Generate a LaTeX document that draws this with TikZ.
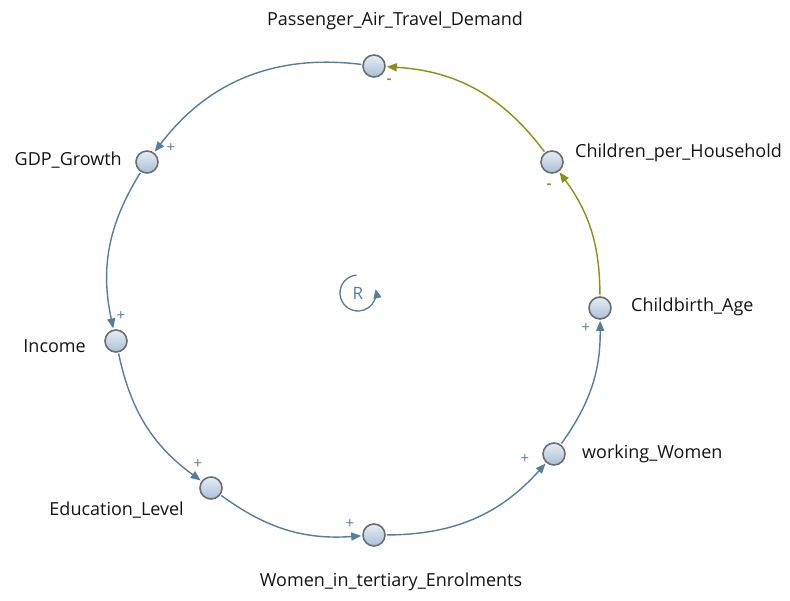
\documentclass[tikz,border=0pt]{standalone}
\usepackage{fontspec}
\setmainfont{Open Sans}
\usetikzlibrary{arrows.meta,calc}
\definecolor{linkblue}{RGB}{86,124,158}
\definecolor{linkolive}{RGB}{142,142,20}
\definecolor{nodeborder}{RGB}{105,110,116}
\definecolor{nodetop}{RGB}{230,237,244}
\definecolor{nodebot}{RGB}{170,192,214}
\definecolor{txt}{RGB}{20,20,20}
\tikzset{
  var/.style={circle, minimum size=22pt, inner sep=0pt, draw=nodeborder, line width=1.6pt, top color=nodetop, bottom color=nodebot},
  lbl/.style={font=\fontsize{18}{21}\selectfont, text=txt, inner sep=0pt},
  link/.style={line width=1.4pt, -{Triangle[length=10pt,width=8pt]}, shorten >=1pt, shorten <=1pt},
  plussign/.style={font=\fontsize{15}{15}\selectfont, text=linkblue, inner sep=0pt},
  minussign/.style={font=\fontsize{14}{14}\selectfont\bfseries, text=linkolive, inner sep=0pt}
}
\begin{document}
\begin{tikzpicture}[x=1pt,y=1pt]
\useasboundingbox (0,0) rectangle (790,600);
% variables
\node[var] (P) at (374,534) {};
\node[var] (C) at (552,438) {};
\node[var] (CA) at (600,292) {};
\node[var] (W) at (554,146) {};
\node[var] (T) at (374,65) {};
\node[var] (E) at (211,112) {};
\node[var] (I) at (116,259) {};
\node[var] (G) at (147,438) {};
% labels
\node[lbl, anchor=base] (Plbl) at (395,574) {Passenger\_Air\_Travel\_Demand};
\node[lbl, anchor=base west] (Clbl) at (575,442) {Children\_per\_Household};
\node[lbl, anchor=base west] (CAlbl) at (631,288) {Childbirth\_Age};
\node[lbl, anchor=base west] (Wlbl) at (582,141) {working\_Women};
\node[lbl, anchor=base] (Tlbl) at (391,13) {Women\_in\_tertiary\_Enrolments};
\node[lbl, anchor=base east] (Elbl) at (184,84) {Education\_Level};
\node[lbl, anchor=base east] (Ilbl) at (86,247) {Income};
\node[lbl, anchor=base east] (Glbl) at (122,434) {GDP\_Growth};
% links
\draw[link, linkblue] (P) to[bend right=30] (G);
\draw[link, linkblue] (G) to[bend right=22] (I);
\draw[link, linkblue] (I) to[bend right=21] (E);
\draw[link, linkblue] (E) to[bend right=20] (T);
\draw[link, linkblue] (T) to[bend right=24] (W);
\draw[link, linkblue] (W) to[bend right=18] (CA);
\draw[link, linkolive] (CA) to[bend right=18] (C);
\draw[link, linkolive] (C) to[bend right=25] (P);
% polarities
\node[minussign] (sP) at (389,519) {-};
\node[plussign] (sG) at (171,452) {+};
\node[plussign] (sI) at (121,284) {+};
\node[plussign] (sE) at (198,136) {+};
\node[plussign] (sT) at (350,76) {+};
\node[plussign] (sW) at (525,141) {+};
\node[plussign] (sCA) at (586,272) {+};
\node[minussign] (sC) at (549,414) {-};
% loop marker
\coordinate (Rc) at (358,307);
\node[font=\fontsize{17}{17}\selectfont, text=linkblue] (R) at (Rc) {R};
\draw[linkblue, line width=1.3pt, -{Triangle[length=9pt,width=8pt]}] ($(Rc)+(95:18)$) arc[start angle=95, end angle=372, radius=18];
\end{tikzpicture}
\end{document}
